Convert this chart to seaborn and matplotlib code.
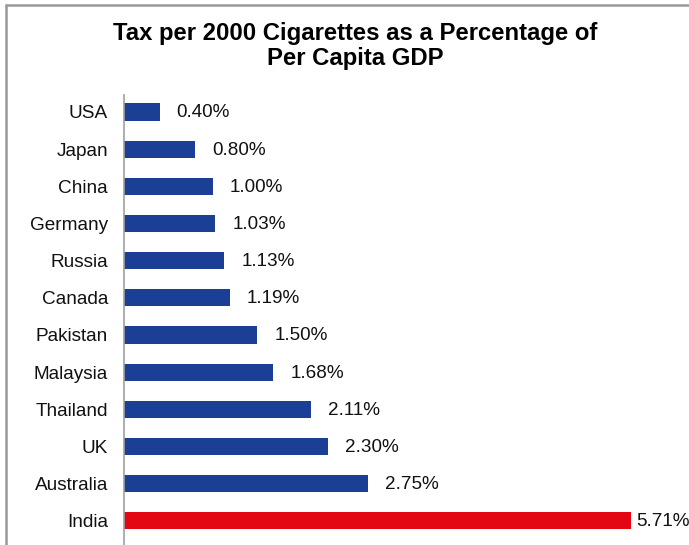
import matplotlib
matplotlib.use("Agg")
import matplotlib.pyplot as plt
import seaborn as sns
import pandas as pd
from matplotlib.lines import Line2D

countries = ["USA", "Japan", "China", "Germany", "Russia", "Canada",
             "Pakistan", "Malaysia", "Thailand", "UK", "Australia", "India"]
values = [0.40, 0.80, 1.00, 1.03, 1.13, 1.19, 1.50, 1.68, 2.11, 2.30, 2.75, 5.71]
labels = ["0.40%", "0.80%", "1.00%", "1.03%", "1.13%", "1.19%",
          "1.50%", "1.68%", "2.11%", "2.30%", "2.75%", "5.71%"]
title = "Tax per 2000 Cigarettes as a Percentage of\nPer Capita GDP"

BLUE = "#1B3F95"
RED = "#E30613"
palette = {c: (RED if c == "India" else BLUE) for c in countries}

sns.set_style("white")
plt.rcParams["font.family"] = ["Liberation Sans", "DejaVu Sans"]

df = pd.DataFrame({"country": countries, "value": values})

W, H = 689, 545
fig = plt.figure(figsize=(W / 100, H / 100), dpi=100)
ax_left, ax_right, ax_top, ax_bot = 124, 684, 95, 545
ax = fig.add_axes([ax_left / W, 1 - ax_bot / H, (ax_right - ax_left) / W, (ax_bot - ax_top) / H])

sns.barplot(data=df, y="country", x="value", hue="country", palette=palette,
            order=countries, width=0.46, legend=False, ax=ax, saturation=1,
            linewidth=0)

px_per_unit = 88.8
ax.set_xlim(0, (ax_right - ax_left) / px_per_unit)
ax.set_ylim(11.65, -0.457)

for i, (v, lab) in enumerate(zip(values, labels)):
    off = 5 if i == len(values) - 1 else 17
    ax.annotate(lab, xy=(v, i), xytext=(off * 0.72, -0.7), textcoords="offset points",
                va="center", ha="left", fontsize=13.6, color="#111111")

ax.set_xlabel("")
ax.set_ylabel("")
ax.set_xticks([])
ax.tick_params(axis="y", length=0, pad=11.5, labelsize=13.7, labelcolor="#111111")
for s in ["top", "right", "bottom"]:
    ax.spines[s].set_visible(False)
ax.spines["left"].set_color("#A0A0A0")
ax.spines["left"].set_linewidth(1.2)

fig.text(355 / W, 1 - 46 / H, title, ha="center", va="center", fontsize=17.2,
         fontweight="bold", linespacing=1.15, color="#000000")

# figure border (top and left)
fig.add_artist(Line2D([6 / W, 6 / W], [0, 1 - 5 / H], transform=fig.transFigure,
                      color="#999999", linewidth=1.8))
fig.add_artist(Line2D([6 / W, 1], [1 - 5 / H, 1 - 5 / H], transform=fig.transFigure,
                      color="#999999", linewidth=1.8))

fig.savefig("out.png", dpi=100)
